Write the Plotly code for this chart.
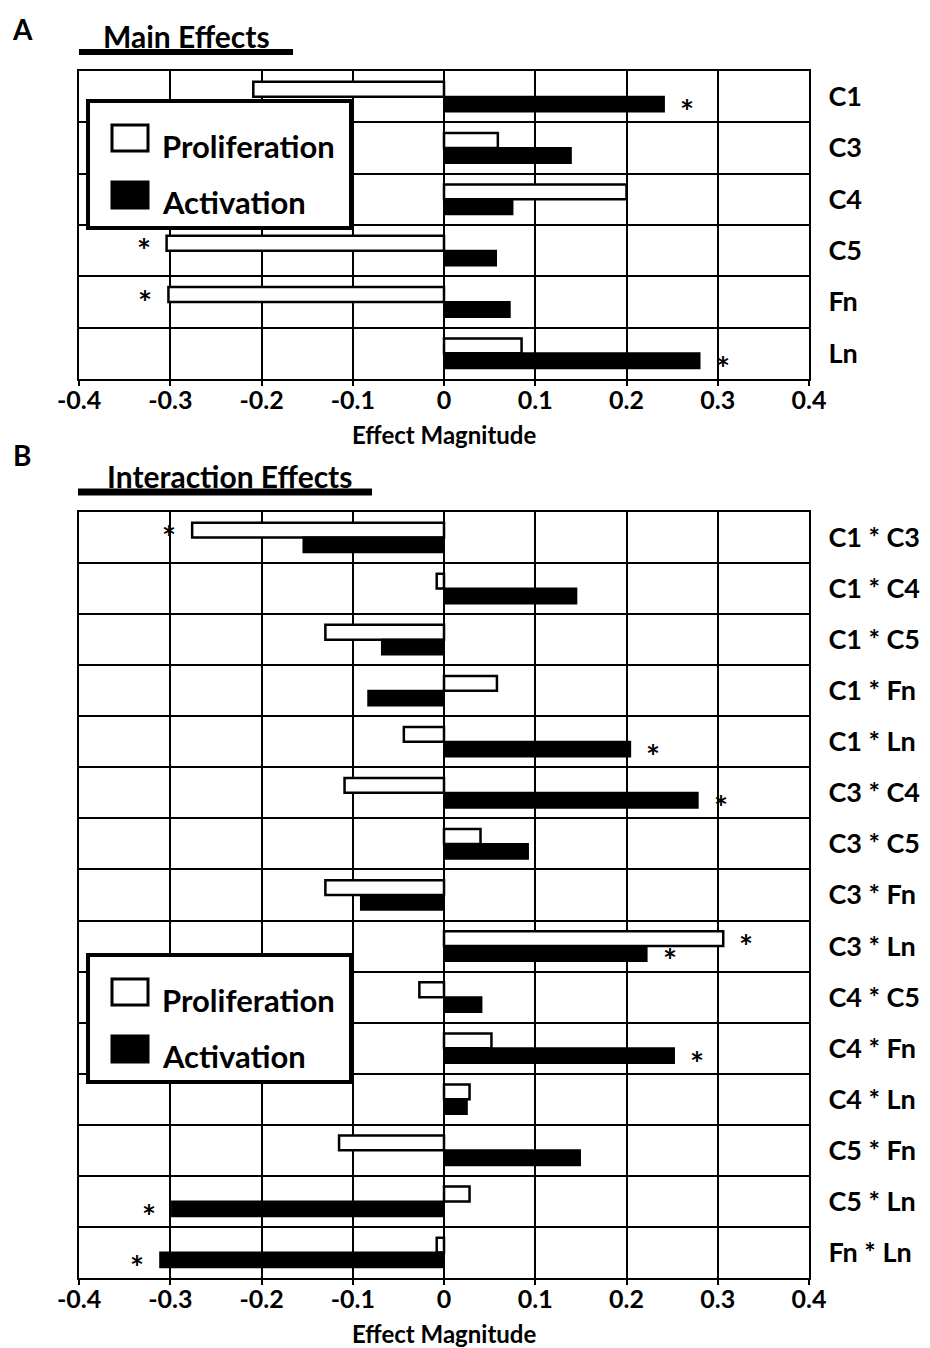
import plotly.graph_objects as go

# ---------------- data ----------------
main_cats = ["C1", "C3", "C4", "C5", "Fn", "Ln"]
main_prolif = [-0.209, 0.059, 0.200, -0.304, -0.302, 0.085]
main_activ = [0.241, 0.139, 0.075, 0.057, 0.072, 0.280]
main_prolif_sig = [False, False, False, True, True, False]
main_activ_sig = [True, False, False, False, False, True]

int_cats = ["C1 * C3", "C1 * C4", "C1 * C5", "C1 * Fn", "C1 * Ln",
            "C3 * C4", "C3 * C5", "C3 * Fn", "C3 * Ln", "C4 * C5",
            "C4 * Fn", "C4 * Ln", "C5 * Fn", "C5 * Ln", "Fn * Ln"]
int_prolif = [-0.276, -0.008, -0.130, 0.058, -0.044,
              -0.109, 0.040, -0.130, 0.306, -0.027,
              0.052, 0.028, -0.115, 0.028, -0.008]
int_activ = [-0.154, 0.145, -0.068, -0.083, 0.204,
             0.278, 0.092, -0.091, 0.222, 0.041,
             0.252, 0.025, 0.149, -0.298, -0.311]
int_prolif_sig = [True, False, False, False, False,
                  False, False, False, True, False,
                  False, False, False, False, False]
int_activ_sig = [False, False, False, False, True,
                 True, False, False, True, False,
                 True, False, False, True, True]

x_tickvals = [-0.4, -0.3, -0.2, -0.1, 0, 0.1, 0.2, 0.3, 0.4]
x_ticktext = ["-0.4", "-0.3", "-0.2", "-0.1", "0", "0.1", "0.2", "0.3", "0.4"]
series_names = ["Proliferation", "Activation"]
axis_title = "Effect Magnitude"

# ---------------- layout helpers ----------------
W, H = 930, 1348
ML, MR = 79, 121
FONT = "Lato"
BARGAP = 0.42


def px(x):
    return (x - ML) / (W - ML - MR)


def py(y):
    return 1 - y / H


fig = go.Figure()

panels = [
    dict(cats=main_cats, prolif=main_prolif, activ=main_activ,
         psig=main_prolif_sig, asig=main_activ_sig, xa="x", ya="y"),
    dict(cats=int_cats, prolif=int_prolif, activ=int_activ,
         psig=int_prolif_sig, asig=int_activ_sig, xa="x2", ya="y2"),
]

annotations = []
shapes = []

for p in panels:
    fig.add_trace(go.Bar(
        y=p["cats"], x=p["prolif"], orientation="h", name=series_names[0],
        marker=dict(color="white", line=dict(color="black", width=2.5)),
        xaxis=p["xa"], yaxis=p["ya"], showlegend=False))
    fig.add_trace(go.Bar(
        y=p["cats"], x=p["activ"], orientation="h", name=series_names[1],
        marker=dict(color="black", line=dict(color="black", width=2)),
        xaxis=p["xa"], yaxis=p["ya"], showlegend=False))
    half = (1 - BARGAP) / 4
    for i, c in enumerate(p["cats"]):
        for vals, sig, off in ((p["prolif"], p["psig"], -half),
                               (p["activ"], p["asig"], half)):
            if sig[i]:
                v = vals[i]
                annotations.append(dict(
                    x=v, y=i + off, xref=p["xa"], yref=p["ya"],
                    xanchor="center", yanchor="middle", borderpad=0,
                    text="<b>*</b>", showarrow=False,
                    xshift=23 if v > 0 else -23, yshift=-7,
                    font=dict(family=FONT, size=33, color="black")))
    # axis title placed just below the tick labels of each panel
    annotations.append(dict(
        x=0.5, y=0, xref=p["xa"] + " domain", yref=p["ya"] + " domain",
        xanchor="center", yanchor="middle", yshift=-55,
        text=f"<b>{axis_title}</b>", showarrow=False,
        font=dict(family=FONT, size=24, color="black")))

axis_common = dict(showline=True, linecolor="black", linewidth=2, mirror=True,
                   showgrid=True, gridcolor="black", gridwidth=2)


def xaxis_cfg(anchor):
    return dict(domain=[0, 1], anchor=anchor, range=[-0.4, 0.4],
                tickvals=x_tickvals, ticktext=x_ticktext, zeroline=False,
                ticks="outside", ticklen=5, tickwidth=2, tickcolor="black",
                ticklabelstandoff=-7,
                tickfont=dict(family=FONT, size=25, color="black", weight="bold"),
                **axis_common)


def yaxis_cfg(anchor, cats, top, bottom):
    return dict(domain=[1 - bottom / H, 1 - top / H], anchor=anchor, side="right",
                type="category", range=[len(cats) - 0.5, -0.5],
                tickson="boundaries", ticks="", ticklabelstandoff=12,
                tickfont=dict(family=FONT, size=27, color="black", weight="bold"),
                **axis_common)


fig.update_layout(
    width=W, height=H,
    margin=dict(l=ML, r=MR, t=0, b=0),
    paper_bgcolor="white", plot_bgcolor="white",
    barmode="group", bargap=BARGAP, bargroupgap=0,
    font=dict(family=FONT, color="black"),
    xaxis=xaxis_cfg("y"),
    yaxis=yaxis_cfg("x", main_cats, 71, 379),
    xaxis2=xaxis_cfg("y2"),
    yaxis2=yaxis_cfg("x2", int_cats, 512, 1278),
)

# panel letters and titles
for letter, ly in (("A", 29), ("B", 455)):
    annotations.append(dict(x=px(22), y=py(ly), xref="paper", yref="paper",
                            xanchor="center", yanchor="middle",
                            text=f"<b>{letter}</b>", showarrow=False,
                            font=dict(family=FONT, size=28, color="black")))
for title, cx, cy, x0, x1, ly, lw in (("Main Effects", 186, 36, 79, 293, 52, 6),
                                      ("Interaction Effects", 229, 476, 78, 372, 492, 7)):
    annotations.append(dict(x=px(cx), y=py(cy), xref="paper", yref="paper",
                            xanchor="center", yanchor="middle",
                            text=f"<b>{title}</b>", showarrow=False,
                            font=dict(family=FONT, size=30, color="black")))
    shapes.append(dict(type="line", xref="paper", yref="paper",
                       x0=px(x0), x1=px(x1), y0=py(ly), y1=py(ly),
                       line=dict(color="black", width=lw)))

# manual legends
for top in (101, 955):
    shapes.append(dict(type="rect", xref="paper", yref="paper",
                       x0=px(88), x1=px(351), y0=py(top), y1=py(top + 127),
                       fillcolor="white", line=dict(color="black", width=4),
                       layer="above"))
    for name, fill, sq0, ty in ((series_names[0], "white", 24, 45),
                                (series_names[1], "black", 81, 101)):
        shapes.append(dict(type="rect", xref="paper", yref="paper",
                           x0=px(112), x1=px(148), y0=py(top + sq0),
                           y1=py(top + sq0 + 26), fillcolor=fill,
                           line=dict(color="black", width=3), layer="above"))
        annotations.append(dict(x=px(160), y=py(top + ty), xref="paper",
                                yref="paper", xanchor="left", yanchor="middle",
                                text=f"<b>{name}</b>", showarrow=False,
                                font=dict(family=FONT, size=31, color="black")))

fig.update_layout(annotations=annotations, shapes=shapes)
fig.write_html("out.html")
